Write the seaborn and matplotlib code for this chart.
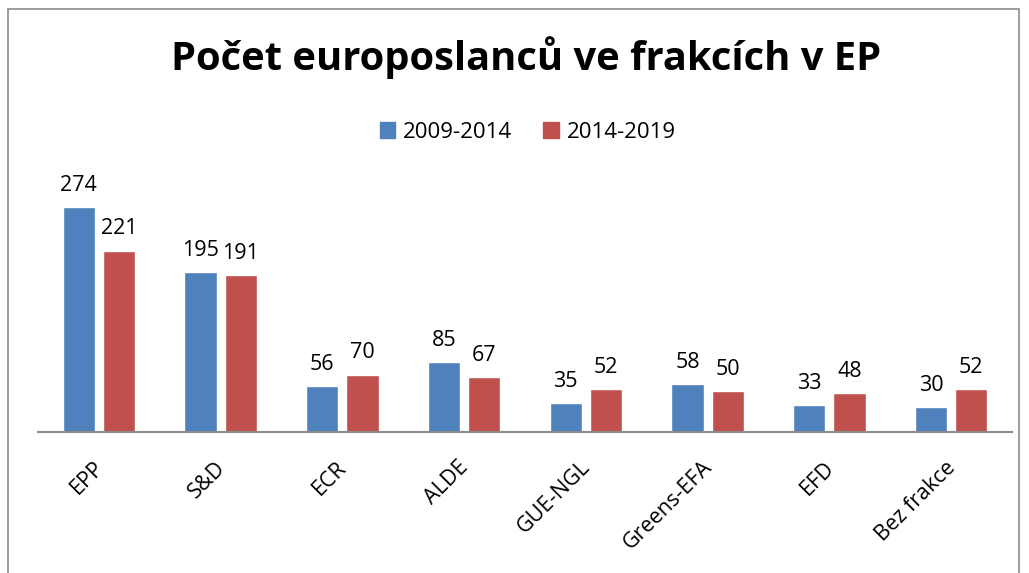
import pandas as pd
import matplotlib.pyplot as plt
import matplotlib.patches as mpatches
from matplotlib.transforms import ScaledTranslation
import seaborn as sns

# data
frakce = ["EPP", "S&D", "ECR", "ALDE", "GUE-NGL", "Greens-EFA", "EFD", "Bez frakce"]
obdobi_1 = [274, 195, 56, 85, 35, 58, 33, 30]   # 2009-2014
obdobi_2 = [221, 191, 70, 67, 52, 50, 48, 52]   # 2014-2019
serie = ["2009-2014", "2014-2019"]
barvy = ["#4F81BD", "#C0504D"]

df = pd.DataFrame({
    "frakce": frakce * 2,
    "pocet": obdobi_1 + obdobi_2,
    "obdobi": [serie[0]] * len(frakce) + [serie[1]] * len(frakce),
})

sns.set_theme(style="white")
plt.rcParams["font.family"] = ["Open Sans", "DejaVu Sans"]
plt.rcParams["text.color"] = "black"
plt.rcParams["xtick.color"] = "black"

fig = plt.figure(figsize=(10.29, 5.73), dpi=100)
ax = fig.add_axes([0.0369, 0.246, 0.9466, 0.43])

sns.barplot(data=df, x="frakce", y="pocet", hue="obdobi", palette=barvy,
            saturation=1, width=0.66, gap=0.2, ax=ax, legend=False)

ax.set_ylim(0, 300)
ax.set_xlim(-0.5, len(frakce) - 0.5)
for c in ax.containers:
    ax.bar_label(c, fmt="%d", padding=8, fontsize=15.5, clip_on=False)

ax.set_xlabel("")
ax.set_ylabel("")
ax.set_yticks([])
for s in ["top", "right", "left"]:
    ax.spines[s].set_visible(False)
ax.spines["bottom"].set_color("#8c8c8c")
ax.spines["bottom"].set_linewidth(1.5)
ax.tick_params(axis="x", length=0, pad=18)
ax.set_xticks(range(len(frakce)))
ax.set_xticklabels(frakce, rotation=45, ha="right", va="top",
                   rotation_mode="anchor", fontsize=15.5)
posun = ScaledTranslation(-6 / 100, 0, fig.dpi_scale_trans)
for lbl in ax.get_xticklabels():
    lbl.set_transform(lbl.get_transform() + posun)

fig.text(0.511, 1 - 70 / 573, "Počet europoslanců ve frakcích v EP",
         ha="center", va="baseline", fontsize=28.7, fontweight="bold")

handles = [mpatches.Patch(color=b, label=s) for b, s in zip(barvy, serie)]
fig.legend(handles=handles, loc="center", bbox_to_anchor=(0.513, 0.769),
           ncol=2, frameon=False, fontsize=16, handlelength=0.7,
           handleheight=0.7, handletextpad=0.35, columnspacing=1.4)

# ramecek grafu
fig.patches.append(mpatches.Rectangle((8 / 1029, -0.05), 1011 / 1029, 1.05 - 9 / 573,
                                      transform=fig.transFigure, fill=False,
                                      edgecolor="#8c8c8c", linewidth=1.2))

fig.savefig("out.png", dpi=100)
